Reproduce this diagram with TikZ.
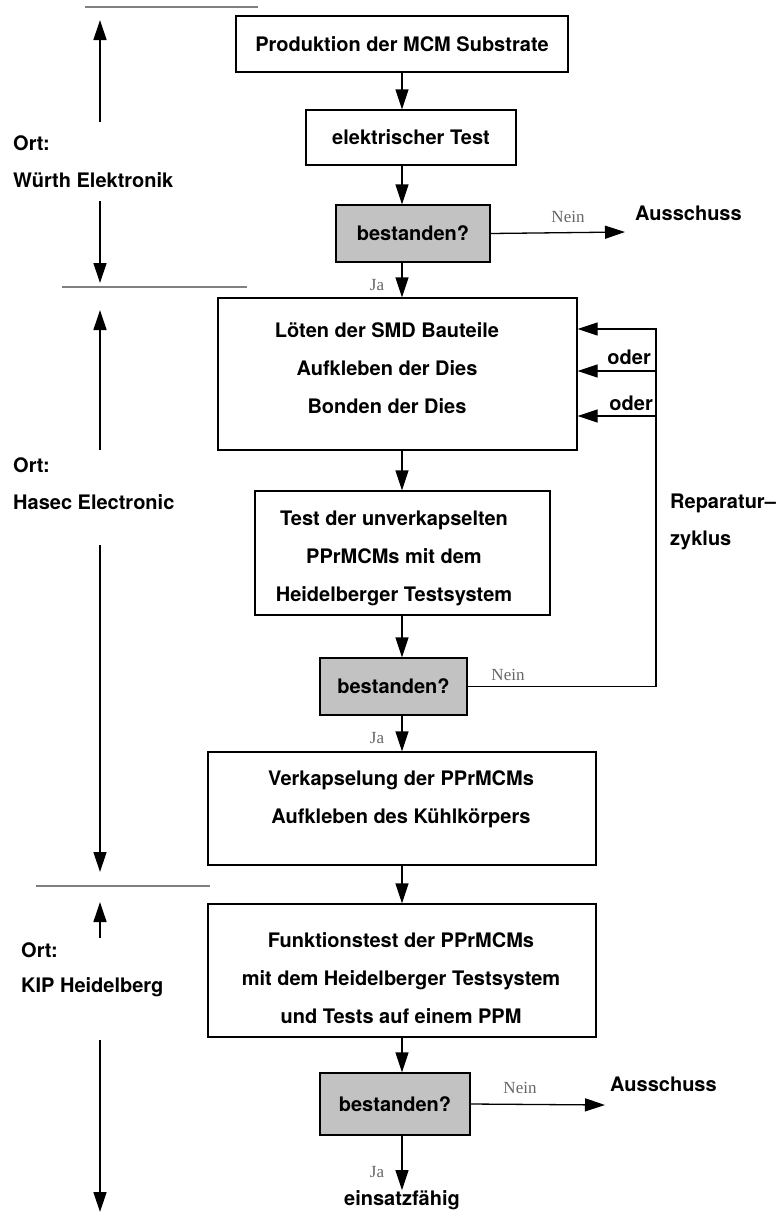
\documentclass[tikz,border=0pt]{standalone}
\usepackage{fontspec}
\setmainfont{TeX Gyre Heros}
\newfontfamily\answerfont{Liberation Serif}
\usetikzlibrary{arrows.meta}

\begin{document}
\begin{tikzpicture}[x=1pt,y=-1pt,
  every node/.style={inner sep=0pt, font=\bfseries\fontsize{20}{38}\selectfont},
  box/.style={draw, line width=1.3pt, fill=white},
  test/.style={draw, line width=1.3pt, fill=black!24},
  txt/.style={align=center},
  side/.style={anchor=west},
  flow/.style={line width=1.3pt, -{Triangle[length=20pt,width=13pt]}},
  sep/.style={draw=black!50, line width=1.4pt},
  yn/.style={font=\answerfont\fontsize{17}{17}\selectfont, text=black!60}
]
\path[use as bounding box] (0,0) rectangle (781,1218);

% vertical spine of the main flow
\coordinate (sp) at (402,0);

% ---------------- main process boxes ----------------
\node[box, minimum width=332pt, minimum height=56pt] (b1) at (402,44) {Produktion der MCM Substrate};
\node[box, minimum width=210pt, minimum height=55pt] (b2) at (411,137.5) {elektrischer Test};
\node[test, minimum width=154pt, minimum height=57pt] (g1) at (413,233.5) {bestanden?};

\node[box, minimum width=359pt, minimum height=152pt] (b3) at (397.5,374) {};
\node[txt] (t3) at (387,368.5) {Löten der SMD Bauteile\\Aufkleben der Dies\\Bonden der Dies};

\node[box, minimum width=295pt, minimum height=124pt] (b4) at (402.5,553) {};
\node[txt] (t4) at (394,558.5) {Test der unverkapselten\\PPrMCMs mit dem\\Heidelberger Testsystem};

\node[test, minimum width=147pt, minimum height=57pt] (g2) at (393.5,686.5) {bestanden?};

\node[box, minimum width=388pt, minimum height=113pt] (b5) at (402,808.5) {};
\node[txt] (t5) at (401,799) {Verkapselung der PPrMCMs\\Aufkleben des Kühlkörpers};

\node[box, minimum width=388pt, minimum height=133pt] (b6) at (402,970.5) {};
\node[txt] (t6) at (401,978) {Funktionstest der PPrMCMs\\mit dem Heidelberger Testsystem\\und Tests auf einem PPM};

\node[test, minimum width=150pt, minimum height=62pt] (g3) at (395,1104) {bestanden?};

\node (ein) at (402,1200) {einsatzfähig};

% ---------------- main flow arrows ----------------
\draw[flow] (b1.south -| sp) -- (b2.north -| sp);
\draw[flow] (b2.south -| sp) -- (g1.north -| sp);
\draw[flow] (g1.south -| sp) -- (b3.north -| sp);
\draw[flow] (b3.south -| sp) -- (b4.north -| sp);
\draw[flow] (b4.south -| sp) -- (g2.north -| sp);
\draw[flow] (g2.south -| sp) -- (b5.north -| sp);
\draw[flow] (b5.south -| sp) -- (b6.north -| sp);
\draw[flow] (b6.south -| sp) -- (g3.north -| sp);
\draw[flow] (g3.south -| sp) -- (ein.north -| sp);

\node[yn] (ja1) at (377,285) {Ja};
\node[yn] (ja2) at (377,738) {Ja};
\node[yn] (ja3) at (377,1172) {Ja};

% ---------------- rejects ----------------
\coordinate (n1) at (625,232);
\draw[flow] (g1.east) -- (n1);
\node[yn] (nein1) at (568,217) {Nein};
\node[side] (aus1) at (635,213) {Ausschuss};

\coordinate (n3) at (605,1105);
\draw[flow] (g3.east) -- (n3);
\node[yn] (nein3) at (520,1088) {Nein};
\node[side] (aus3) at (610,1084) {Ausschuss};

% ---------------- repair cycle ----------------
\coordinate (r1) at (656,329);
\coordinate (r2) at (656,371);
\coordinate (r3) at (656,416);
\draw[flow] (g2.east) -| (r1) -- (r1 -| b3.east);
\draw[flow] (r2) -- (r2 -| b3.east);
\draw[flow] (r3) -- (r3 -| b3.east);
\node[yn] (nein2) at (508,675) {Nein};
\node[anchor=east] (oder1) at (651,357) {oder};
\node[anchor=east] (oder2) at (653,403) {oder};
\node[side] (rep1) at (670,503) {Reparatur–};
\node[side] (rep2) at (670,540) {zyklus};

% ---------------- site separators ----------------
\coordinate (s1a) at (85,7);   \coordinate (s1b) at (258,7);
\coordinate (s2a) at (62,287); \coordinate (s2b) at (247,287);
\coordinate (s3a) at (36,886); \coordinate (s3b) at (210,886);
\draw[sep] (s1a) -- (s1b);
\draw[sep] (s2a) -- (s2b);
\draw[sep] (s3a) -- (s3b);

% ---------------- site labels with extent arrows ----------------
\coordinate (w1) at (100,122);  \coordinate (w2) at (100,20);
\coordinate (w3) at (100,201);  \coordinate (w4) at (100,283);
\draw[flow] (w1) -- (w2);
\draw[flow] (w3) -- (w4);
\node[side] (ort1) at (13,143) {Ort:};
\node[side] (site1) at (13,180) {Würth Elektronik};

\coordinate (h1) at (100,450);  \coordinate (h2) at (100,310);
\coordinate (h3) at (100,545);  \coordinate (h4) at (100,872);
\draw[flow] (h1) -- (h2);
\draw[flow] (h3) -- (h4);
\node[side] (ort2) at (13,465) {Ort:};
\node[side] (site2) at (13,502) {Hasec Electronic};

\coordinate (k1) at (100,938);  \coordinate (k2) at (100,902);
\coordinate (k3) at (100,1040); \coordinate (k4) at (100,1212);
\draw[flow] (k1) -- (k2);
\draw[flow] (k3) -- (k4);
\node[side] (ort3) at (21,950) {Ort:};
\node[side] (site3) at (21,987) {KIP Heidelberg};
\end{tikzpicture}
\end{document}
